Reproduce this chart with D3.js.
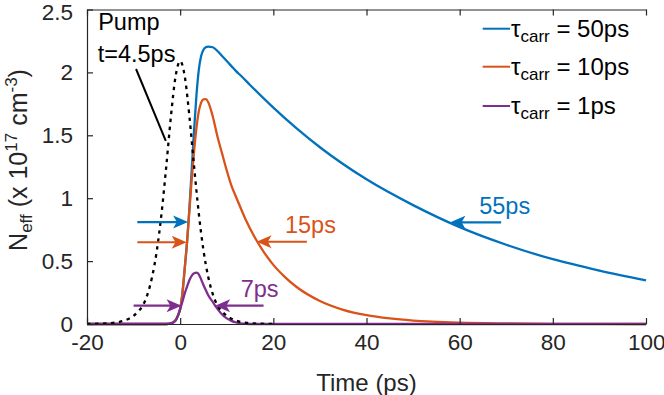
<!DOCTYPE html>
<html>
<head>
<meta charset="utf-8">
<script src="https://cdn.jsdelivr.net/npm/d3@7"></script>
<style>
  body { margin: 0; background: #fff; }
  text { font-family: "Liberation Sans", Arial, sans-serif; }
</style>
</head>
<body>
<svg id="chart" width="664" height="395"></svg>
<script>
// values
const xTicks = [-20, 0, 20, 40, 60, 80, 100];
const xTickLabels = ["-20", "0", "20", "40", "60", "80", "100"];
const yTicks = [0, 0.5, 1, 1.5, 2, 2.5];
const yTickLabels = ["0", "0.5", "1", "1.5", "2", "2.5"];

const pumpTime = [-20, -18, -16, -15, -14, -13, -12, -11, -10, -9, -8, -7, -6, -5, -4, -3, -2, -1, 0,
  1, 2, 3, 4, 5, 6, 7, 8, 9, 10, 11, 12, 13, 14, 15, 16, 18, 20];
const pumpValues = [0.0005, 0.0015, 0.004, 0.007, 0.011, 0.017, 0.027, 0.042, 0.065, 0.10, 0.148, 0.238, 0.378, 0.586, 0.878, 1.247, 1.644, 1.965, 2.09,
  1.965, 1.644, 1.247, 0.878, 0.586, 0.378, 0.238, 0.148, 0.10, 0.065, 0.042, 0.027, 0.017, 0.011, 0.007, 0.004, 0.0015, 0.0005];

const blueTime = [-20, -3, -2, -1, -0.5, 0, 0.5, 1, 1.5, 2, 2.5, 3, 3.5, 4, 4.5, 5, 5.5, 6, 7, 8, 9, 10, 11, 12, 13, 15, 20, 25, 30, 40, 50, 60, 70, 80, 90, 100];
const blueValues = [0, 0, 0.005, 0.03, 0.065, 0.12, 0.25, 0.45, 0.66, 0.93, 1.24, 1.55, 1.82, 2.02, 2.13, 2.18, 2.2, 2.205, 2.2, 2.17, 2.13, 2.09, 2.05, 2.01, 1.975, 1.9, 1.72, 1.555, 1.405, 1.15, 0.945, 0.77, 0.63, 0.515, 0.425, 0.347];

const orangeTime = [-20, -3, -2, -1, -0.5, 0, 0.5, 1, 1.5, 2, 2.5, 3, 3.5, 4, 4.5, 5, 5.5, 6, 7, 8, 9, 10, 11, 12, 14, 16, 18, 20, 22.5, 25, 30, 35, 40, 45, 50, 60, 70, 80, 100];
const orangeValues = [0, 0, 0.005, 0.03, 0.065, 0.12, 0.25, 0.45, 0.66, 0.91, 1.16, 1.38, 1.56, 1.69, 1.76, 1.785, 1.787, 1.765, 1.65, 1.49, 1.355, 1.22, 1.1, 1.01, 0.835, 0.69, 0.57, 0.47, 0.373, 0.294, 0.183, 0.113, 0.07, 0.044, 0.027, 0.01, 0.004, 0.0016, 0.0002];

const purpleTime = [-20, -3, -2, -1, -0.5, 0, 0.5, 1, 1.5, 2, 2.5, 3, 3.5, 4, 4.5, 5, 5.5, 6, 7, 7.5, 8, 9, 10, 11, 12, 13, 14, 16, 20, 100];
const purpleValues = [0, 0, 0.004, 0.025, 0.065, 0.12, 0.18, 0.245, 0.30, 0.35, 0.385, 0.403, 0.408, 0.395, 0.355, 0.31, 0.27, 0.23, 0.175, 0.146, 0.12, 0.075, 0.045, 0.025, 0.012, 0.005, 0.002, 0, 0, 0];

const seriesNames = ["50ps", "10ps", "1ps"];
const seriesColors = ["#0072BD", "#D95319", "#7E2F8E"];

// arrows: [fromTime, toTime, level, colour index]
const arrows = [
  [-9.2, 1.7, 0.81, 0],
  [-9.2, 1.4, 0.65, 1],
  [-10, 0.3, 0.146, 2],
  [17.9, 7.5, 0.146, 2],
  [27.2, 16.4, 0.654, 1],
  [68.9, 58, 0.808, 0]
];
// labels: [text, time, level, colour index]
const arrowLabels = [
  ["55ps", 64.2, 0.874, 0],
  ["15ps", 22.5, 0.721, 1],
  ["7ps", 13.0, 0.212, 2]
];

const margin = { top: 9.5, right: 18, bottom: 71, left: 87 };
const width = 664, height = 395;

const svg = d3.select("#chart");

const x = d3.scaleLinear().domain([-20, 100]).range([margin.left, width - margin.right]);
const y = d3.scaleLinear().domain([0, 2.5]).range([height - margin.bottom, margin.top]);

const line = d3.line()
  .x(d => x(d[0]))
  .y(d => y(d[1]))
  .curve(d3.curveMonotoneX);

const axisColor = "#262626";

// curves
const series = [
  d3.zip(blueTime, blueValues),
  d3.zip(orangeTime, orangeValues),
  d3.zip(purpleTime, purpleValues)
];
series.forEach((pts, i) => {
  svg.append("path")
    .attr("d", line(pts))
    .attr("fill", "none")
    .attr("stroke", seriesColors[i])
    .attr("stroke-width", 2.3);
});

svg.append("path")
  .attr("d", line(d3.zip(pumpTime, pumpValues)))
  .attr("fill", "none")
  .attr("stroke", "#000")
  .attr("stroke-width", 2.3)
  .attr("stroke-dasharray", "3.5,4.5");

// axes box with inward ticks on all sides
const xAxisB = d3.axisBottom(x).tickValues(xTicks).tickSizeInner(-6).tickSizeOuter(0).tickPadding(10)
  .tickFormat((d, i) => xTickLabels[i]);
const xAxisT = d3.axisTop(x).tickValues(xTicks).tickSizeInner(-6).tickSizeOuter(0).tickFormat("");
const yAxisL = d3.axisLeft(y).tickValues(yTicks).tickSizeInner(-6).tickSizeOuter(0).tickPadding(14)
  .tickFormat((d, i) => yTickLabels[i]);
const yAxisR = d3.axisRight(y).tickValues(yTicks).tickSizeInner(-6).tickSizeOuter(0).tickFormat("");

function styleAxis(g) {
  g.selectAll("path").attr("stroke", axisColor).attr("stroke-width", 1.2);
  g.selectAll("line").attr("stroke", axisColor).attr("stroke-width", 1.2);
  g.selectAll("text")
    .attr("fill", axisColor)
    .style("font-size", "22.5px")
    .style("font-family", "'Liberation Sans', Arial, sans-serif");
}

const gx = svg.append("g").attr("transform", `translate(0,${y(0)})`).call(xAxisB).call(styleAxis);
// keep the last label inside the picture
gx.selectAll(".tick text").filter(d => d === 100).attr("text-anchor", "end").attr("dx", 19);
svg.append("g").attr("transform", `translate(0,${y(2.5)})`).call(xAxisT).call(styleAxis);
const gy = svg.append("g").attr("transform", `translate(${x(-20)},0)`).call(yAxisL).call(styleAxis);
gy.selectAll(".tick text").filter(d => d === 2.5).attr("dy", "0.45em");

// axis titles
svg.append("text")
  .attr("x", (x(-20) + x(100)) / 2)
  .attr("y", 391)
  .attr("text-anchor", "middle")
  .attr("fill", axisColor)
  .style("font-size", "24px")
  .text("Time (ps)");

const yt = svg.append("text")
  .attr("transform", `translate(27,160) rotate(-90)`)
  .attr("text-anchor", "middle")
  .attr("fill", axisColor)
  .style("font-size", "25px");
yt.append("tspan").text("N");
yt.append("tspan").attr("dy", 5).style("font-size", "17px").text("eff");
yt.append("tspan").attr("dy", -5).text(" (x 10");
yt.append("tspan").attr("dy", -10).style("font-size", "17px").text("17");
yt.append("tspan").attr("dy", 10).text(" cm");
yt.append("tspan").attr("dy", -10).style("font-size", "17px").text("-3");
yt.append("tspan").attr("dy", 10).text(")");

// arrows
arrows.forEach(([t0, t1, v, ci]) => {
  const x0 = x(t0), x1 = x(t1), yy = y(v);
  const dir = Math.sign(x1 - x0);
  const headLen = 15, headW = 6.5;
  svg.append("line")
    .attr("x1", x0).attr("y1", yy)
    .attr("x2", x1 - dir * headLen * 0.7).attr("y2", yy)
    .attr("stroke", seriesColors[ci])
    .attr("stroke-width", 2.2);
  svg.append("path")
    .attr("d", `M${x1},${yy}L${x1 - dir * headLen},${yy - headW}L${x1 - dir * headLen * 0.75},${yy}L${x1 - dir * headLen},${yy + headW}Z`)
    .attr("fill", seriesColors[ci]);
});

arrowLabels.forEach(([txt, t, v, ci]) => {
  svg.append("text")
    .attr("x", x(t))
    .attr("y", y(v))
    .attr("fill", seriesColors[ci])
    .style("font-size", "23.5px")
    .text(txt);
});

// pump annotation
svg.append("text").attr("x", x(-17.6)).attr("y", y(2.337)).attr("fill", "#000")
  .style("font-size", "23.5px").text("Pump");
svg.append("text").attr("x", x(-17.7)).attr("y", y(2.085)).attr("fill", "#000")
  .style("font-size", "23.5px").text("t=4.5ps");
svg.append("line")
  .attr("x1", x(-9.47)).attr("y1", y(2.027))
  .attr("x2", x(-3.09)).attr("y2", y(1.455))
  .attr("stroke", "#000").attr("stroke-width", 2);

// legend
const legend = svg.append("g");
const legendRows = [28.7, 66.7, 106];
seriesNames.forEach((name, i) => {
  const ly = legendRows[i];
  legend.append("line")
    .attr("x1", 482.7).attr("x2", 510)
    .attr("y1", ly).attr("y2", ly)
    .attr("stroke", seriesColors[i])
    .attr("stroke-width", 2);
  const t = legend.append("text")
    .attr("x", 511).attr("y", ly + 8)
    .attr("fill", "#000")
    .style("font-size", "24px");
  t.append("tspan").text("τ");
  t.append("tspan").attr("dy", 5).style("font-size", "17px").text("carr");
  t.append("tspan").attr("dy", -5).text(" = " + name);
});
</script>
</body>
</html>
